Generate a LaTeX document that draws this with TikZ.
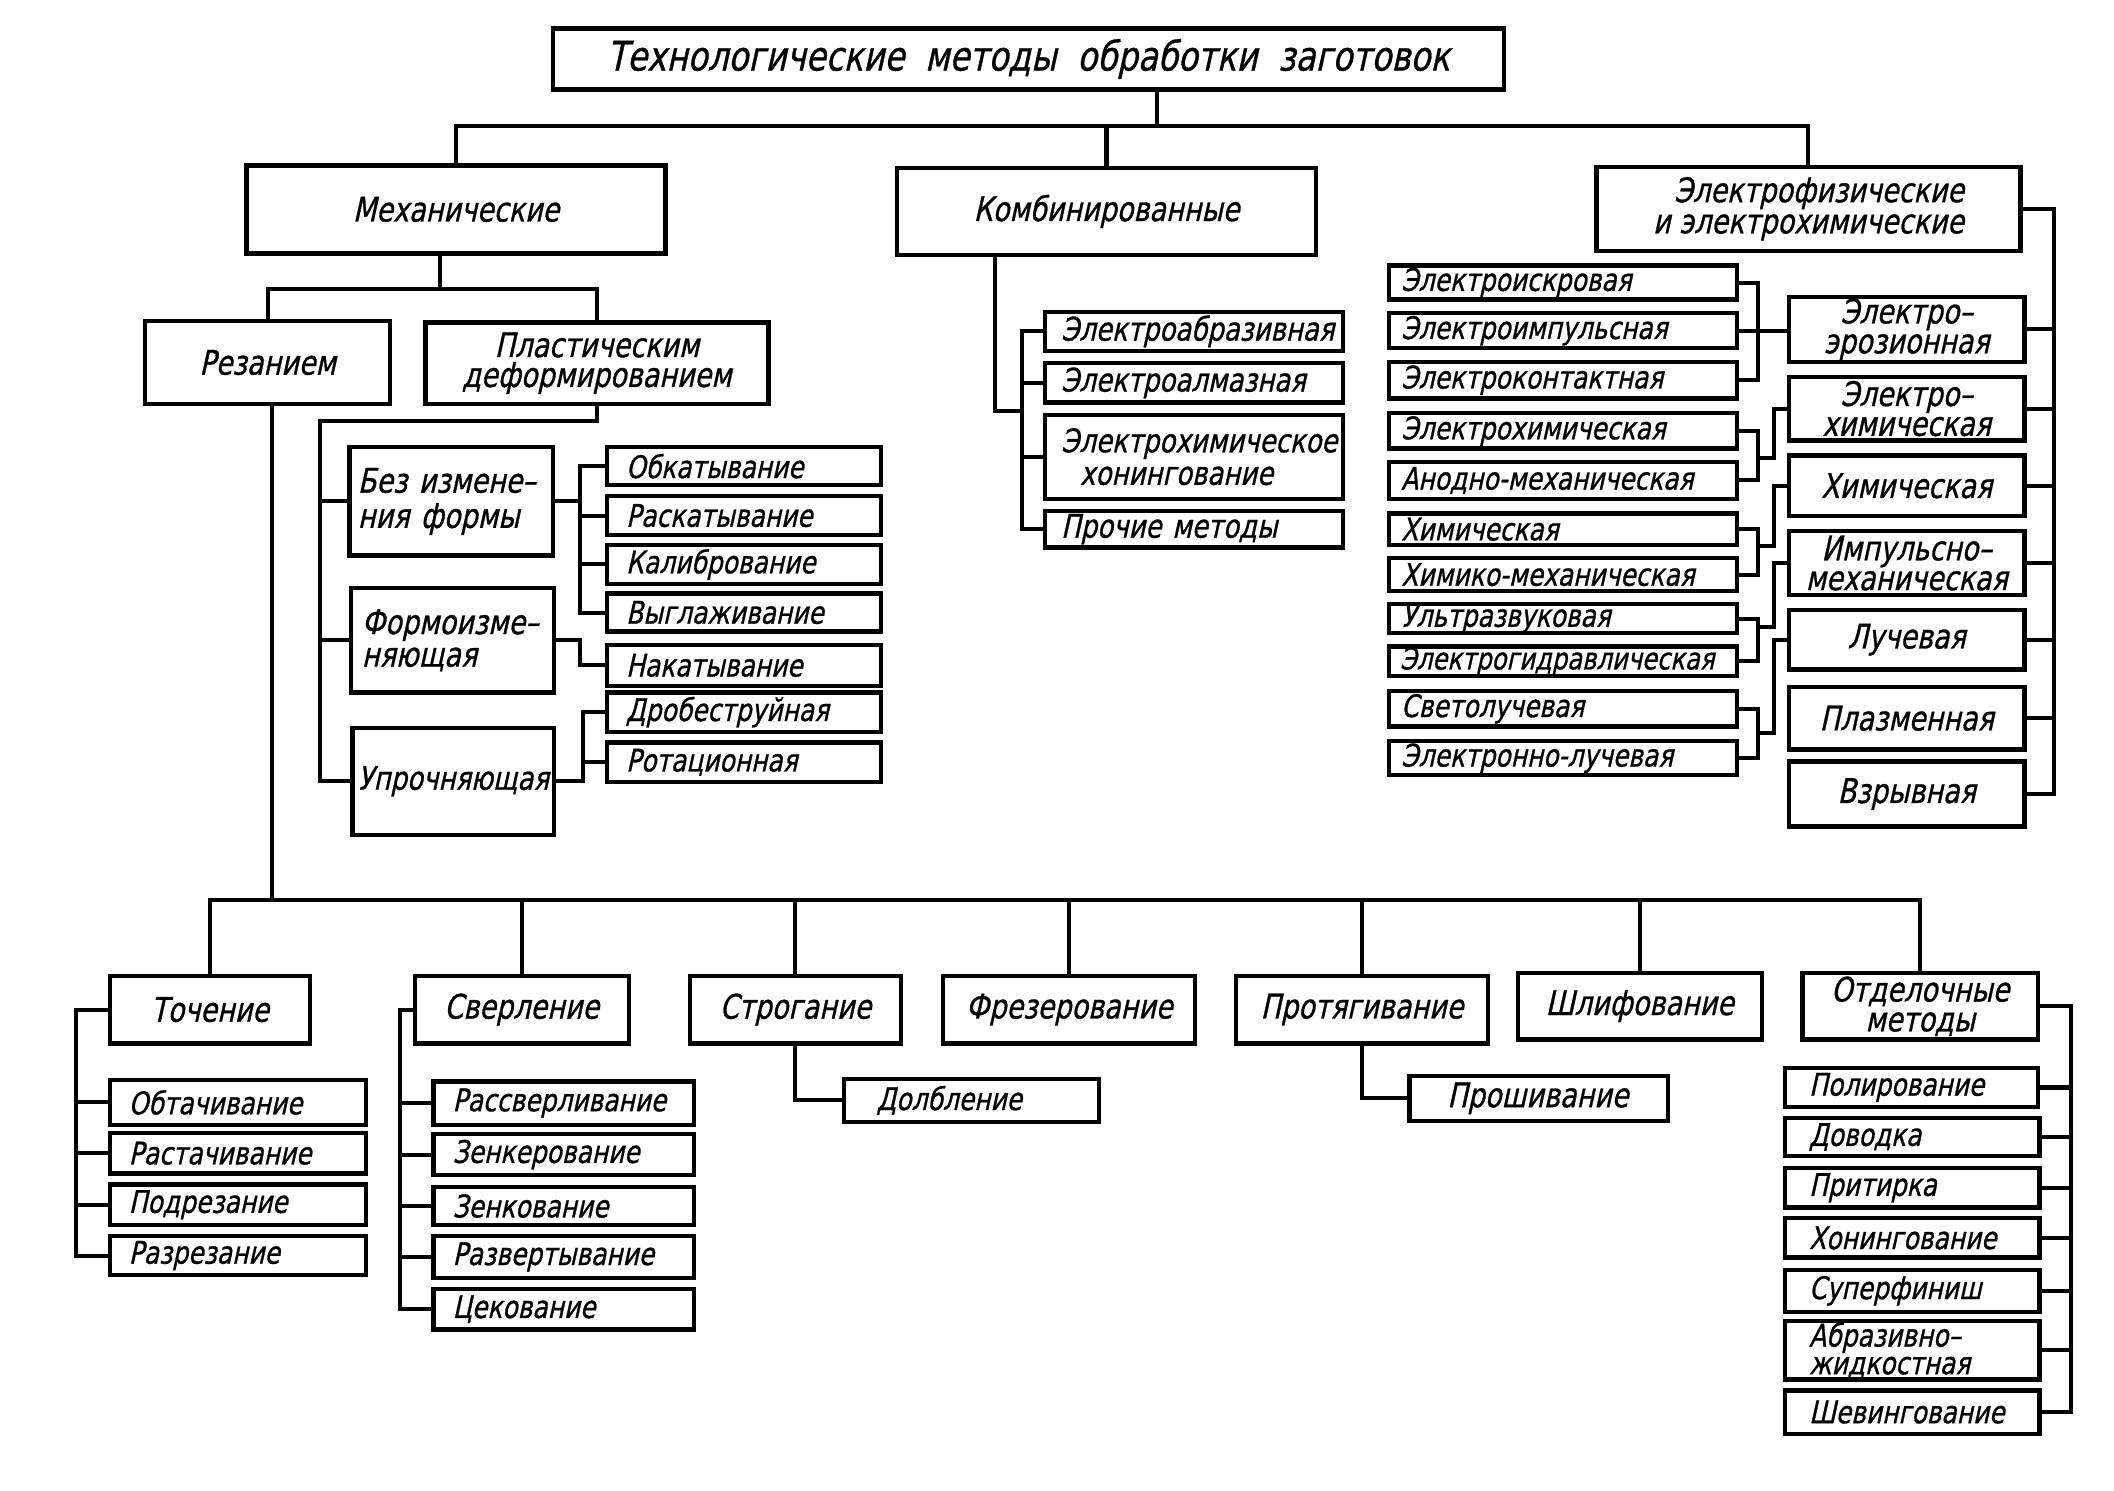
\documentclass[tikz,border=0pt]{standalone}
\usepackage{fontspec}
\newfontfamily\gost{DejaVu Sans}[FakeStretch=0.8,FakeSlant=0.22,FakeBold=0.8]
\usetikzlibrary{calc}
% centred box: [opts]{name}{x1}{y1}{x2}{y2}{text}
\newcommand\bx[7][]{%
  \pgfmathsetmacro\bxw{(#5-#3)*0.5}%
  \pgfmathsetmacro\bxh{(#6-#4)*0.5}%
  \node[box,minimum width=\bxw pt,minimum height=\bxh pt,#1] (#2) at ({(#3+#5)/2},{(#4+#6)/2}) {#7};}
% left-aligned box: [opts]{pad}{name}{x1}{y1}{x2}{y2}{text}
\newcommand\bl[8][]{%
  \pgfmathsetmacro\bxw{(#6-#4)*0.5}%
  \pgfmathsetmacro\bxh{(#7-#5)*0.5}%
  \pgfmathsetmacro\bxtw{(#6-#4)*0.5-2*#2}%
  \node[box,align=left,inner xsep=#2pt,text width=\bxtw pt,minimum width=\bxw pt,minimum height=\bxh pt,#1] (#3) at ({(#4+#6)/2},{(#5+#7)/2}) {#8};}
\begin{document}
\begin{tikzpicture}[x=0.5pt,y=-0.5pt,
  box/.style={draw,line width=1.6pt,inner sep=0pt,align=center,font=\gost\fontsize{11.5}{10.5}\selectfont},
  sm/.style={font=\gost\fontsize{11.5}{10.5}\selectfont},
  smm/.style={font=\gost\fontsize{12}{12}\selectfont},
  md/.style={font=\gost\fontsize{12.5}{11}\selectfont},
  ttl/.style={font=\gost\fontsize{15}{15}\selectfont},
  con/.style={line width=1.5pt}]
\useasboundingbox (0,0) rectangle (1560,1100);

% ---------- top levels
\bx[ttl]{title}{408}{21}{1110}{66}{Технологические\ \ методы\ \ обработки\ \ заготовок}
\bx[md]{mech}{182}{122}{491}{187}{Механические}
\bx[md]{kombi}{662}{124}{971}{188}{Комбинированные}
\bx[md,align=right,font=\gost\fontsize{12.5}{11.5}\selectfont]{elf}{1178}{123}{1491}{185}{Электрофизические\\и электрохимические}

\bx[md]{rez}{107}{237}{288}{298}{Резанием}
\bx[md]{plast}{314}{238}{567}{298}{Пластическим\\деформированием}

% ---------- plastic deformation
\bl[md,font=\gost\fontsize{12.5}{13}\selectfont]{3}{bez}{258}{330}{408}{410}{\mbox{Без измене–}\\\mbox{ния формы}}
\bl[md,font=\gost\fontsize{12.5}{12}\selectfont]{4}{form}{259}{434}{409}{511}{\mbox{Формоизме–}\\\mbox{няющая}}
\bx[md,font=\gost\fontsize{12}{11}\selectfont]{upr}{260}{537}{409}{616}{Упрочняющая}

\bl[sm]{7}{obkat}{448}{330}{650}{358}{Обкатывание}
\bl[sm]{7}{raskat}{448}{366}{650}{395}{Раскатывание}
\bl[sm]{7}{kalib}{448}{402}{650}{431}{Калибрование}
\bl[sm]{7}{vygl}{448}{438}{650}{466}{Выглаживание}
\bl[sm]{7}{nakat}{448}{476}{650}{506}{Накатывание}
\bl[sm]{7}{drob}{448}{511}{650}{540}{Дробеструйная}
\bl[sm]{7}{rotac}{448}{548}{650}{577}{Ротационная}

% ---------- combined
\bl[smm]{6}{eabr}{771}{230}{991}{259}{Электроабразивная}
\bl[smm]{6}{ealm}{771}{268}{991}{297}{Электроалмазная}
\bl[smm]{6}{ehon}{771}{306}{991}{368}{Электрохимическое\\\hspace*{7pt}хонингование}
\bl[smm]{6}{proch}{771}{377}{991}{404}{Прочие методы}

% ---------- electro left column
\bl[sm]{4.5}{eisk}{1025}{196}{1282}{221}{Электроискровая}
\bl[sm]{4.5}{eimp}{1025}{231}{1282}{257}{Электроимпульсная}
\bl[sm]{4.5}{ekont}{1025}{267}{1282}{294}{Электроконтактная}
\bl[sm]{4.5}{echem}{1025}{305}{1282}{331}{Электрохимическая}
\bl[sm]{4.5}{anod}{1025}{341}{1282}{368}{Анодно-механическая}
\bl[sm]{4.5}{chim}{1025}{379}{1282}{402}{Химическая}
\bl[sm]{4.5}{chimmech}{1025}{412}{1282}{436}{Химико-механическая}
\bl[sm]{4.5}{ultra}{1025}{446}{1282}{467}{Ультразвуковая}
\bl[sm,font=\gost\fontsize{11.2}{10.5}\selectfont]{4}{egidr}{1025}{477}{1282}{499}{Электрогидравлическая}
\bl[sm]{4.5}{svet}{1025}{510}{1282}{536}{Светолучевая}
\bl[sm]{4.5}{elluch}{1025}{547}{1282}{572}{Электронно-лучевая}

% ---------- electro right column
\bx[md]{eroz}{1320}{219}{1494}{267}{Электро–\\эрозионная}
\bx[md]{elchim}{1320}{278}{1494}{325}{Электро–\\химическая}
\bx[md]{chimR}{1320}{336}{1494}{381}{Химическая}
\bx[md]{impuls}{1320}{392}{1494}{439}{Импульсно–\\механическая}
\bx[md]{luch}{1320}{450}{1494}{494}{Лучевая}
\bx[md]{plazm}{1320}{507}{1494}{553}{Плазменная}
\bx[md]{vzryv}{1320}{562}{1494}{610}{Взрывная}

% ---------- cutting, bottom row
\bx[md]{toch}{81}{720}{229}{770}{Точение}
\bx[md]{sverl}{306}{720}{464}{770}{Сверление}
\bx[md]{strog}{509}{720}{665}{770}{Строгание}
\bx[md]{frez}{696}{720}{882}{770}{Фрезерование}
\bx[md]{protyag}{912}{720}{1098}{770}{Протягивание}
\bx[md]{shlif}{1120}{718}{1300}{767}{Шлифование}
\bx[md]{otdel}{1330}{718}{1504}{767}{Отделочные\\методы}

\bl[sm]{7}{obtach}{81}{797}{270}{830}{Обтачивание}
\bl[sm]{7}{rastach}{81}{836}{270}{866}{Растачивание}
\bl[sm]{7}{podrez}{81}{874}{270}{904}{Подрезание}
\bl[sm]{7}{razrez}{81}{912}{270}{941}{Разрезание}

\bl[sm]{7}{rassv}{320}{798}{512}{830}{Рассверливание}
\bl[sm]{7}{zenker}{320}{837}{512}{867}{Зенкерование}
\bl[sm]{7}{zenkov}{320}{876}{512}{904}{Зенкование}
\bl[sm]{7}{razvert}{320}{912}{512}{943}{Развертывание}
\bl[sm]{7}{cekov}{320}{951}{512}{981}{Цекование}

\bl[sm]{12}{dolb}{623}{796}{811}{828}{Долбление}
\bl[md]{14}{proshiv}{1040}{794}{1231}{827}{Прошивание}

\bl[sm]{9}{polir}{1317}{788}{1504}{817}{Полирование}
\bl[sm]{9}{dovod}{1317}{825}{1505}{853}{Доводка}
\bl[sm]{9}{pritir}{1317}{862}{1505}{891}{Притирка}
\bl[sm]{9}{honing}{1317}{899}{1505}{928}{Хонингование}
\bl[sm]{9}{superf}{1317}{937}{1505}{968}{Суперфиниш}
\bl[sm,font=\gost\fontsize{11.5}{10.2}\selectfont]{9}{abraz}{1317}{975}{1505}{1018}{\mbox{Абразивно–}\\\mbox{жидкостная}}
\bl[sm]{9}{shev}{1317}{1026}{1505}{1058}{Шевингование}

% ---------- connectors: top
\coordinate (j0) at (854,93);
\draw[con] (j0 |- title.south) -- (j0);
\draw[con] (mech.north) |- (elf.north |- j0) -- (elf.north);
\draw[con] (kombi.north) -- (kombi.north |- j0);

% mechanical
\coordinate (j1) at (325,213);
\draw[con] (j1 |- mech.south) -- (j1);
\draw[con] (rez.north) |- (plast.north |- j1) -- (plast.north);

% plastic deformation
\coordinate (j3) at (236,311);
\draw[con] (plast.south) -- (plast.south |- j3) -- (j3) |- (upr.west);
\draw[con] (bez.west) -- (bez.west -| j3);
\draw[con] (form.west) -- (form.west -| j3);

\coordinate (j4) at (428,369);
\draw[con] (bez.east) -- (bez.east -| j4);
\draw[con] (obkat.west) -| (vygl.west -| j4) -- (vygl.west);
\draw[con] (raskat.west) -- (raskat.west -| j4);
\draw[con] (kalib.west) -- (kalib.west -| j4);
\draw[con] (form.east) -- (form.east -| j4) |- (nakat.west);

\coordinate (j5) at (430,525);
\draw[con] (upr.east) -- (upr.east -| j5) |- (drob.west);
\draw[con] (rotac.west) -- (rotac.west -| j5);

% combined
\coordinate (j6) at (734,303);
\coordinate (j7) at (754,303);
\draw[con] (j6 |- kombi.south) -- (j6) -- (j7);
\draw[con] (eabr.west) -| (proch.west -| j7) -- (proch.west);
\draw[con] (ealm.west) -- (ealm.west -| j7);
\draw[con] (ehon.west) -- (ehon.west -| j7);

% electro: right bus
\coordinate (j8) at (1516,150);
\draw[con] (elf.east) -| (vzryv.east -| j8) -- (vzryv.east);
\foreach \n in {eroz,elchim,chimR,impuls,luch,plazm}
  \draw[con] (\n.east) -- (\n.east -| j8);

% electro: left groups
\coordinate (b1) at (1297,0);
\coordinate (b2) at (1309,0);
\draw[con] (eisk.east) -| (ekont.east -| b1) -- (ekont.east);
\draw[con] (eimp.east) -- (eroz.west |- eimp.east);

\draw[con] (echem.east) -| (anod.east -| b1) -- (anod.east);
\coordinate (gB) at (1297,338);
\draw[con] (gB) -- (gB -| b2) |- (elchim.west);

\draw[con] (chim.east) -| (chimmech.east -| b1) -- (chimmech.east);
\coordinate (gC) at (1297,403);
\draw[con] (gC) -- (gC -| b2) |- (chimR.west);

\draw[con] (ultra.east) -| (egidr.east -| b1) -- (egidr.east);
\coordinate (gD) at (1297,463);
\draw[con] (gD) -- (gD -| b2) |- (impuls.west);

\draw[con] (svet.east) -| (elluch.east -| b1) -- (elluch.east);
\coordinate (gE) at (1297,541);
\draw[con] (gE) -- (gE -| b2) |- (luch.west);

% cutting
\coordinate (j2) at (201,664);
\draw[con] (j2 |- rez.south) -- (j2);
\draw[con] (toch.north) |- (otdel.north |- j2) -- (otdel.north);
\foreach \n in {sverl,strog,frez,protyag,shlif}
  \draw[con] (\n.north) -- (\n.north |- j2);

\coordinate (k1) at (56,745);
\draw[con] (toch.west) -| (razrez.west -| k1) -- (razrez.west);
\foreach \n in {obtach,rastach,podrez}
  \draw[con] (\n.west) -- (\n.west -| k1);

\coordinate (k2) at (295,745);
\draw[con] (sverl.west) -| (cekov.west -| k2) -- (cekov.west);
\foreach \n in {rassv,zenker,zenkov,razvert}
  \draw[con] (\n.west) -- (\n.west -| k2);

\draw[con] (strog.south) |- (dolb.west);
\draw[con] (protyag.south) |- (proshiv.west);

\coordinate (k3) at (1528,740);
\draw[con] (otdel.east) -| (shev.east -| k3) -- (shev.east);
\foreach \n in {polir,dovod,pritir,honing,superf,abraz}
  \draw[con] (\n.east) -- (\n.east -| k3);
\end{tikzpicture}
\end{document}
